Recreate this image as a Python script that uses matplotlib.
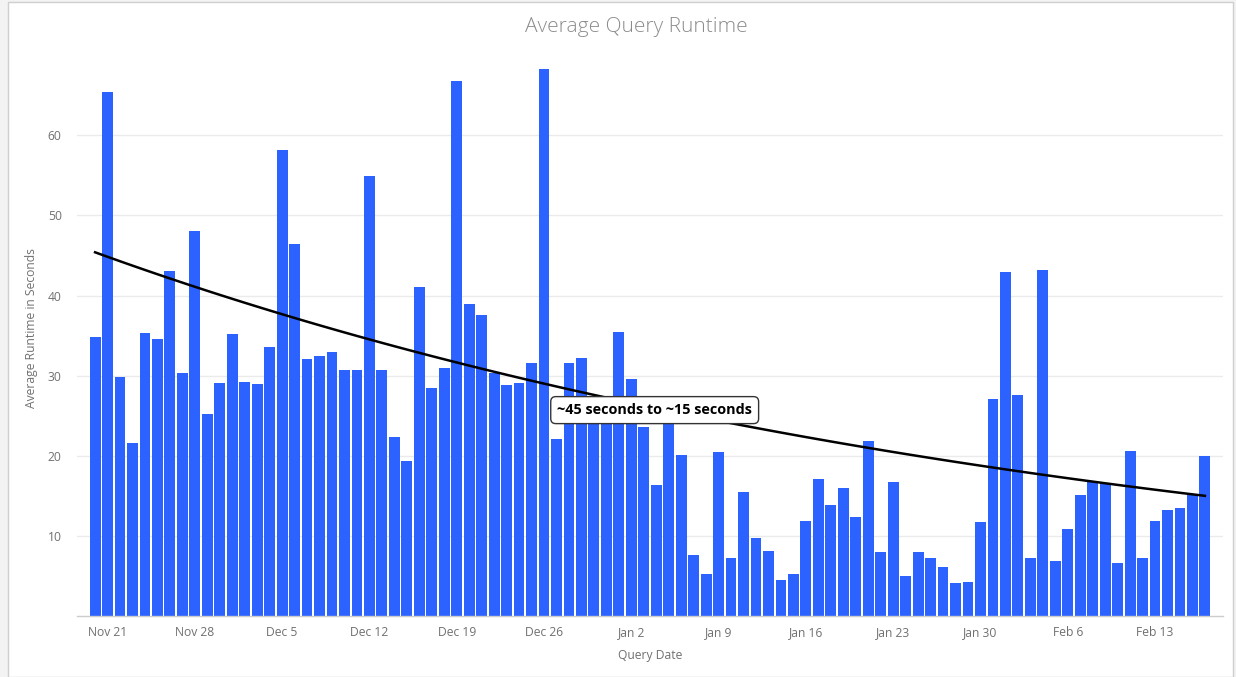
import matplotlib
matplotlib.use("Agg")
import matplotlib.pyplot as plt
import matplotlib.dates as mdates
import numpy as np
import pandas as pd
from matplotlib.patches import Rectangle

plt.rcParams['font.family'] = ['Open Sans', 'DejaVu Sans']

# ---------------- data ----------------
start_date = "2021-11-20"
runtime_seconds = [
    34.8, 65.4, 29.8, 21.6, 35.3, 34.6, 43.1, 30.3, 48.0, 25.2, 29.1,          # Nov 20-30
    35.2, 29.2, 29.0, 33.6, 58.2, 46.4, 32.1, 32.4, 33.0, 30.7, 30.7,          # Dec 1-11
    54.9, 30.7, 22.3, 19.3, 41.1, 28.4, 31.0, 66.8, 38.9, 37.6, 30.3,          # Dec 12-22
    28.8, 29.1, 31.6, 68.3, 22.1, 31.6, 32.2, 25.0, 24.5,                      # Dec 23-31
    35.5, 29.6, 23.6, 16.4, 25.0, 20.1, 7.6, 5.2, 20.5, 7.3, 15.5,             # Jan 1-11
    9.7, 8.1, 4.5, 5.2, 11.8, 17.1, 13.8, 16.0, 12.3, 21.8, 8.0,               # Jan 12-22
    16.7, 5.0, 8.0, 7.3, 6.1, 4.1, 4.2, 11.7, 27.1,                            # Jan 23-31
    42.9, 27.6, 7.3, 43.2, 6.9, 10.8, 15.1, 16.9, 16.6, 6.6, 20.6,             # Feb 1-11
    7.3, 11.8, 13.2, 13.5, 15.2, 20.0,                                         # Feb 12-17
]
dates = pd.date_range(start_date, periods=len(runtime_seconds), freq="D")

trend_start = 45.4
trend_end = 15.0

tick_dates = ["2021-11-21", "2021-11-28", "2021-12-05", "2021-12-12", "2021-12-19",
              "2021-12-26", "2022-01-02", "2022-01-09", "2022-01-16", "2022-01-23",
              "2022-01-30", "2022-02-06", "2022-02-13"]
tick_labels = ["Nov 21", "Nov 28", "Dec 5", "Dec 12", "Dec 19", "Dec 26", "Jan 2",
               "Jan 9", "Jan 16", "Jan 23", "Jan 30", "Feb 6", "Feb 13"]
y_ticks = [10, 20, 30, 40, 50, 60]

title = "Average Query Runtime"
x_title = "Query Date"
y_title = "Average Runtime in Seconds"
annotation_text = "~45 seconds to ~15 seconds"

# ---------------- figure ----------------
W, H = 1236, 677
fig = plt.figure(figsize=(W / 100, H / 100), dpi=100)
fig.patch.set_facecolor("#f3f3f3")

# white card with light border (behind everything)
card = Rectangle((8 / W, 0), (1233 - 8) / W, (H - 2) / H, transform=fig.transFigure,
                 facecolor="white", edgecolor="#cfcfcf", linewidth=1.0, zorder=-10)
fig.patches.append(card)

ax = fig.add_axes([77 / W, (H - 616) / H, (1223 - 77) / W, (616 - 40) / H])
ax.set_zorder(5)
ax.patch.set_alpha(0)

x_num = mdates.date2num(dates)
ax.bar(x_num, runtime_seconds, width=0.87, color="#2c62ff", edgecolor="none", zorder=2)

# exponential trend line between fitted endpoints
t = x_num - x_num[0]
k = np.log(trend_end / trend_start) / t[-1]
trend = trend_start * np.exp(k * t)
ax.plot(x_num, trend, color="black", linewidth=1.8, zorder=3)

ax.set_xlim(x_num[0] - 1.45, x_num[-1] + 1.45)
ax.set_ylim(0, 71.9)

ax.set_yticks(y_ticks)
ax.set_yticklabels([str(v) for v in y_ticks])
ax.set_xticks(mdates.date2num(pd.to_datetime(tick_dates)))
ax.set_xticklabels(tick_labels)
ax.tick_params(axis="both", length=0, labelsize=8.7, labelcolor="#707070")
ax.tick_params(axis="y", pad=11)
ax.tick_params(axis="x", pad=7)

ax.grid(axis="y", color="#ebebeb", linewidth=1.0, zorder=0)
ax.set_axisbelow(True)
for side in ["top", "right", "left"]:
    ax.spines[side].set_visible(False)
ax.spines["bottom"].set_color("#cccccc")
ax.spines["bottom"].set_linewidth(1.0)

ax.set_xlabel(x_title, fontsize=8.7, color="#707070")
ax.xaxis.set_label_coords(0.5, -(656 - 616) / 576, transform=ax.transAxes)
ax.xaxis.label.set_va("center")
ax.set_ylabel(y_title, fontsize=8.7, color="#707070")
ax.yaxis.set_label_coords((32 - 77) / 1146, 0.5, transform=ax.transAxes)
ax.yaxis.label.set_va("center")

fig.text(636 / W, (H - 27) / H, title, ha="center", va="center",
         fontsize=15, color="#8c8c8c", fontweight="light")

ann_x = mdates.date2num(pd.Timestamp("2022-01-03 21:00"))
ax.text(ann_x, 25.7, annotation_text, ha="center", va="center", fontsize=10.4,
        fontweight="bold", color="black", zorder=5,
        bbox=dict(boxstyle="round,pad=0.45,rounding_size=0.35", facecolor="white",
                  edgecolor="#333333", linewidth=1.0))

fig.savefig("out.png", dpi=100, facecolor=fig.get_facecolor())
